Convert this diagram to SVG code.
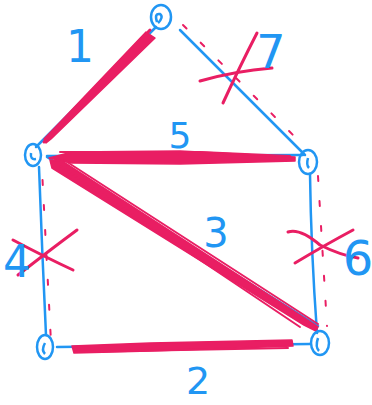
<svg xmlns="http://www.w3.org/2000/svg" width="372" height="405" viewBox="0 0 372 405">
<style>
.b{fill:none;stroke:#2196f3;stroke-width:2.5;stroke-linecap:round;stroke-linejoin:round}
.r{fill:none;stroke:#e91e63;stroke-linecap:round;stroke-linejoin:round}
.rf{fill:#e91e63;stroke:#e91e63;stroke-width:1.5;stroke-linejoin:round}
.d{fill:none;stroke:#e91e63;stroke-width:2;stroke-linecap:round;stroke-dasharray:5 20}
.x{fill:none;stroke:#e91e63;stroke-width:3;stroke-linecap:round}
.n{fill:none;stroke:#2196f3;stroke-width:2.5}
.t{font-family:"DejaVu Sans","Liberation Sans",sans-serif;fill:#2196f3;text-anchor:middle}
</style>
<rect width="372" height="405" fill="#ffffff"/>
<g id="connectors">
  <!-- blue base edges -->
  <path class="b" d="M156,27 L36,147"/>
  <path class="b" d="M180,30 L305,155"/>
  <path class="b" d="M47,156 L303,155"/>
  <path class="b" d="M47,157 L318,326"/>
  <path class="b" d="M39,167 Q42,250 46,335"/>
  <path class="b" d="M310,174 Q311,250 317,333"/>
  <path class="b" d="M57,347 L310,344"/>
  <!-- red thick chosen edges -->
  <path class="rf" d="M146,32 L155,38 L51,139 L46,143 L44,139 Z"/>
  <path class="r" stroke-width="3" d="M150,30 L44,142"/>
  <path class="rf" d="M49,158 L72,152 L180,151 L295,157 L295,161 L180,164 L72,163 Z"/>
  <path class="r" stroke-width="2" d="M60,152 L200,152 L290,156"/>
  <path class="rf" d="M50,160 L62,161 L318,327 L316,331 L304,325 L52,168 Z"/>
  <path class="r" stroke-width="2" d="M60,166 L300,327"/>
  <path class="r" stroke-width="2" d="M64,160 L318,324"/>
  <path class="rf" d="M72,346 L150,343 L292,340 L293,346 L150,351 L74,353 Z"/>
  <path class="r" stroke-width="2" d="M75,352 L288,348"/>
  <!-- red dashed rejected edges -->
  <path class="d" d="M183,25 L300,142"/>
  <path class="d" stroke-dashoffset="-10" d="M42,170 L51,342"/>
  <path class="d" d="M318,176 L327,326"/>
  <!-- crosses -->
  <path class="x" d="M200,81 Q235,71 272,68"/>
  <path class="x" d="M223,103 Q240,66 257,33"/>
  <path class="x" d="M13,240 Q45,257 73,270"/>
  <path class="x" d="M18,275 Q50,250 77,230"/>
  <path class="x" d="M288,232 Q300,228 320,245 Q340,255 358,258"/>
  <path class="x" d="M295,263 Q325,245 353,230"/>
</g>
<g id="node-top">
  <ellipse class="n" cx="161" cy="17" rx="10" ry="12"/>
  <path class="n" d="M157,22 Q154,13 160,14 Q164,17 158,23"/>
</g>
<g id="node-left">
  <ellipse class="n" cx="33" cy="155" rx="8" ry="11"/>
  <path class="n" d="M36,159 Q30,160 31,153"/>
</g>
<g id="node-right">
  <ellipse class="n" cx="308" cy="162" rx="9" ry="12"/>
  <path class="n" d="M308,158 Q306,165 309,168"/>
</g>
<g id="node-bottom-left">
  <ellipse class="n" cx="45" cy="347" rx="8" ry="12"/>
  <path class="n" d="M45,343 Q41,350 45,354"/>
</g>
<g id="node-bottom-right">
  <ellipse class="n" cx="320" cy="343" rx="9" ry="12"/>
  <path class="n" d="M318,338 Q315,347 319,351"/>
</g>
<g id="labels">
  <text class="t" x="80" y="62" font-size="44">1</text>
  <text class="t" x="271" y="68" font-size="46">7</text>
  <text class="t" x="180" y="148" font-size="36">5</text>
  <text class="t" x="216" y="247" font-size="40">3</text>
  <text class="t" x="17" y="277" font-size="44">4</text>
  <text class="t" x="358" y="275" font-size="48">6</text>
  <text class="t" x="198" y="394" font-size="38">2</text>
</g>
</svg>
